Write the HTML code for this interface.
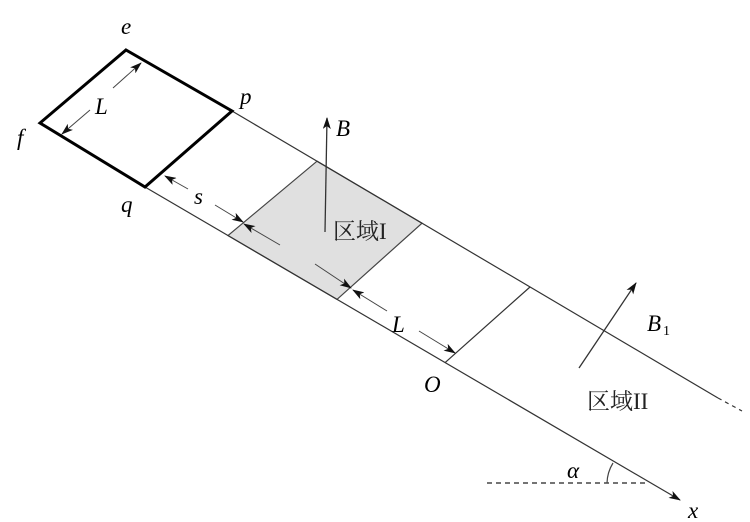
<!DOCTYPE html>
<html><head><meta charset="utf-8"><style>
html,body{margin:0;padding:0;background:#fff;}
svg{display:block;}
.t{font-family:"Liberation Serif","Times New Roman",serif;font-style:italic;font-size:23px;fill:#000;}
.c{font-family:"Liberation Serif","Noto Serif CJK SC",serif;font-size:23px;fill:#222;}
</style></head><body>
<svg width="750" height="522" viewBox="0 0 750 522" xmlns="http://www.w3.org/2000/svg">
<defs>
<marker id="a" markerWidth="12" markerHeight="8" refX="11" refY="4" orient="auto" markerUnits="userSpaceOnUse">
<path d="M0,0 L12,4 L0,8 L3,4 Z" fill="#111"/></marker>
</defs>
<polygon points="317,161.2 422,223.2 337,299.4 228,235.6" fill="#e0e0e0" stroke="#444" stroke-width="1.2"/>
<line x1="232" y1="111" x2="718" y2="398" stroke="#333" stroke-width="1.2"/>
<line x1="718" y1="398" x2="742" y2="411" stroke="#333" stroke-width="1.2" stroke-dasharray="4,4"/>
<line x1="145" y1="187" x2="680" y2="500" stroke="#333" stroke-width="1.2" marker-end="url(#a)"/>
<line x1="530" y1="287" x2="445" y2="362.7" stroke="#333" stroke-width="1.2"/>
<polygon points="126,50 232,111 145,187 40,123" fill="none" stroke="#000" stroke-width="3"/>
<line x1="487" y1="483" x2="648" y2="483" stroke="#222" stroke-width="1.2" stroke-dasharray="5,4"/>
<path d="M607,483 A40,40 0 0 1 613,463" fill="none" stroke="#444" stroke-width="1.2"/>
<line x1="325" y1="232" x2="327" y2="118" stroke="#333" stroke-width="1.3" marker-end="url(#a)"/>
<line x1="579" y1="368" x2="636" y2="283" stroke="#333" stroke-width="1.3" marker-end="url(#a)"/>
<line x1="113" y1="88" x2="141" y2="63" stroke="#444" stroke-width="1" marker-end="url(#a)"/>
<line x1="90" y1="110" x2="62" y2="134" stroke="#444" stroke-width="1" marker-end="url(#a)"/>
<line x1="188" y1="189" x2="165" y2="176" stroke="#444" stroke-width="1" marker-end="url(#a)"/>
<line x1="215" y1="205" x2="243" y2="222" stroke="#444" stroke-width="1" marker-end="url(#a)"/>
<line x1="280" y1="245" x2="244" y2="224" stroke="#444" stroke-width="1" marker-end="url(#a)"/>
<line x1="315" y1="264" x2="351" y2="288" stroke="#444" stroke-width="1" marker-end="url(#a)"/>
<line x1="387" y1="311" x2="353" y2="290" stroke="#444" stroke-width="1" marker-end="url(#a)"/>
<line x1="419" y1="331" x2="455" y2="353" stroke="#444" stroke-width="1" marker-end="url(#a)"/>
<text class="t" x="121" y="34">e</text>
<text class="t" x="240" y="104">p</text>
<text class="t" x="17" y="145">f</text>
<text class="t" x="121" y="212">q</text>
<text class="t" x="95" y="114">L</text>
<text class="t" x="194" y="204">s</text>
<text class="t" x="392" y="332">L</text>
<text class="t" x="336" y="136">B</text>
<text class="t" x="647" y="331">B</text>
<text x="663" y="335" style="font-family:'Liberation Serif',serif;font-size:14px">1</text>
<text class="t" x="424" y="392">O</text>
<text class="t" x="567" y="478">α</text>
<text class="t" x="688" y="518">x</text>
<text class="c" x="333" y="239">区域I</text>
<text class="c" x="587" y="409">区域II</text>
</svg>
</body></html>
